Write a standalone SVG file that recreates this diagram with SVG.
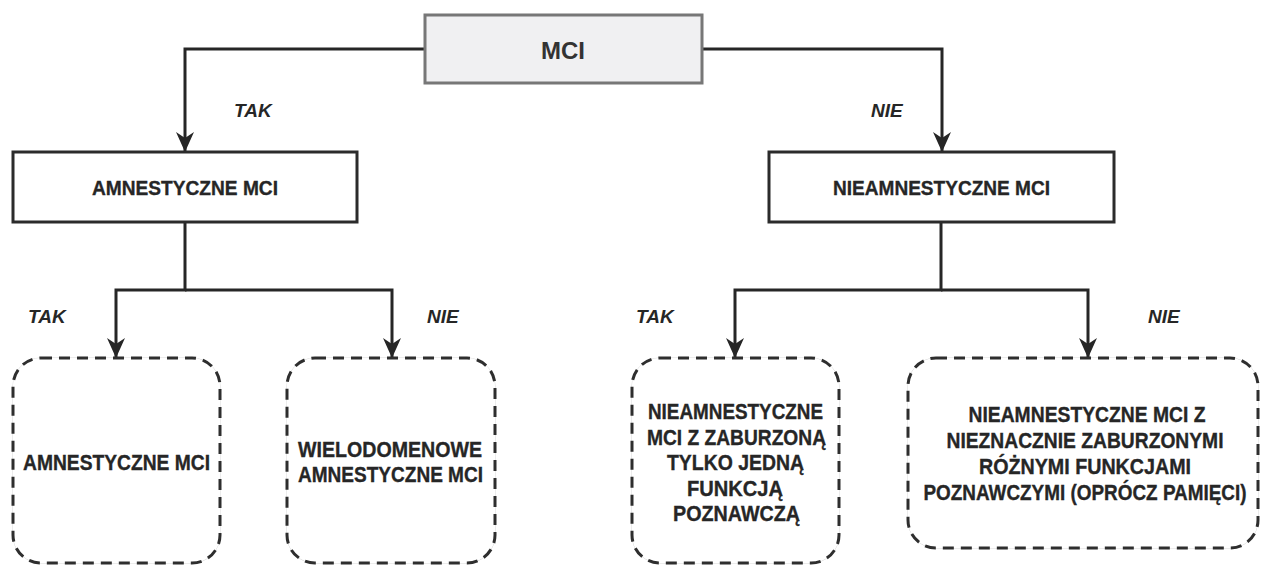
<svg xmlns="http://www.w3.org/2000/svg" width="1261" height="565" viewBox="0 0 1261 565">
<style>
  .bg { fill: #ffffff; }
  .box { fill: #ffffff; stroke: #2b2b2b; stroke-width: 3; }
  .root { fill: #f0f0f2; stroke: #777777; stroke-width: 3; }
  .dash { fill: #ffffff; stroke: #2e2e2e; stroke-width: 3; stroke-dasharray: 11 7; }
  .faint { fill: none; stroke: #cfcfcf; stroke-width: 0.8; }
  .conn { fill: none; stroke: #262626; stroke-width: 3; }
  .t { font-family: "Liberation Sans", Arial, sans-serif; font-weight: bold; fill: #262626; stroke: #262626; stroke-width: 0.35; text-anchor: middle; }
  .lbl { font-family: "Liberation Sans", Arial, sans-serif; font-weight: bold; font-style: italic; font-size: 19px; fill: #262626; }
  .big { font-family: "Liberation Sans", Arial, sans-serif; font-weight: bold; font-size: 24px; fill: #333333; text-anchor: middle; }
</style>
<defs>
  <marker id="arr" viewBox="0 0 20 20" refX="19" refY="10" markerWidth="20" markerHeight="20" markerUnits="userSpaceOnUse" orient="auto">
    <path d="M0,1 L20,10 L0,19 L6,10 Z" fill="#262626"/>
  </marker>
</defs>
<rect class="bg" x="0" y="0" width="1261" height="565"/>

<g id="connectors">
  <path class="conn" d="M425 49 H185 V151" marker-end="url(#arr)"/>
  <path class="conn" d="M702 49 H942 V151" marker-end="url(#arr)"/>
  <path class="conn" d="M185 222 V290 H116 V357" marker-end="url(#arr)"/>
  <path class="conn" d="M185 290 H392 V357" marker-end="url(#arr)"/>
  <path class="conn" d="M941 222 V290 H735 V357" marker-end="url(#arr)"/>
  <path class="conn" d="M941 290 H1088 V357" marker-end="url(#arr)"/>
</g>

<g id="labels">
  <text class="lbl" x="234" y="117">TAK</text>
  <text class="lbl" x="871" y="117">NIE</text>
  <text class="lbl" x="28" y="323">TAK</text>
  <text class="lbl" x="427" y="323">NIE</text>
  <text class="lbl" x="636" y="323">TAK</text>
  <text class="lbl" x="1148" y="323">NIE</text>
</g>

<g id="node-mci">
  <rect class="root" x="425" y="15" width="277" height="68"/>
  <text class="big" x="563" y="59">MCI</text>
</g>

<g id="node-amnestyczne">
  <rect class="box" x="13" y="152" width="344" height="70"/>
  <text class="t" x="185" y="195" font-size="21" textLength="186" lengthAdjust="spacingAndGlyphs">AMNESTYCZNE MCI</text>
</g>

<g id="node-nieamnestyczne">
  <rect class="box" x="769" y="152" width="345" height="70"/>
  <text class="t" x="941.5" y="195" font-size="21" textLength="217" lengthAdjust="spacingAndGlyphs">NIEAMNESTYCZNE MCI</text>
</g>

<g id="node-amn-single">
  <rect class="faint" x="13" y="358" width="207" height="205" rx="28"/>
  <rect class="dash" x="13" y="358" width="207" height="205" rx="28"/>
  <text class="t" x="116.5" y="470" font-size="22" textLength="187" lengthAdjust="spacingAndGlyphs">AMNESTYCZNE MCI</text>
</g>

<g id="node-amn-multi">
  <rect class="faint" x="287" y="358" width="208" height="205" rx="28"/>
  <rect class="dash" x="287" y="358" width="208" height="205" rx="28"/>
  <text class="t" x="390" y="457" font-size="22" textLength="184" lengthAdjust="spacingAndGlyphs">WIELODOMENOWE</text>
  <text class="t" x="390.5" y="482" font-size="22" textLength="185" lengthAdjust="spacingAndGlyphs">AMNESTYCZNE MCI</text>
</g>

<g id="node-nieamn-single">
  <rect class="faint" x="632" y="358" width="207" height="205" rx="28"/>
  <rect class="dash" x="632" y="358" width="207" height="205" rx="28"/>
  <text class="t" x="735.5" y="419" font-size="22" textLength="175" lengthAdjust="spacingAndGlyphs">NIEAMNESTYCZNE</text>
  <text class="t" x="736.5" y="445" font-size="22" textLength="179" lengthAdjust="spacingAndGlyphs">MCI Z ZABURZONĄ</text>
  <text class="t" x="735.5" y="470" font-size="22" textLength="137" lengthAdjust="spacingAndGlyphs">TYLKO JEDNĄ</text>
  <text class="t" x="735" y="496" font-size="22" textLength="96" lengthAdjust="spacingAndGlyphs">FUNKCJĄ</text>
  <text class="t" x="736.5" y="521" font-size="22" textLength="127" lengthAdjust="spacingAndGlyphs">POZNAWCZĄ</text>
</g>

<g id="node-nieamn-multi">
  <rect class="faint" x="908" y="358" width="350" height="190" rx="28"/>
  <rect class="dash" x="908" y="358" width="350" height="190" rx="28"/>
  <text class="t" x="1087" y="422" font-size="22" textLength="237" lengthAdjust="spacingAndGlyphs">NIEAMNESTYCZNE MCI Z</text>
  <text class="t" x="1085" y="448" font-size="22" textLength="277" lengthAdjust="spacingAndGlyphs">NIEZNACZNIE ZABURZONYMI</text>
  <text class="t" x="1085" y="474" font-size="22" textLength="212" lengthAdjust="spacingAndGlyphs">RÓŻNYMI FUNKCJAMI</text>
  <text class="t" transform="translate(1085,500) scale(0.86,1)" x="0" y="0" font-size="22">POZNAWCZYMI (OPRÓCZ PAMIĘCI)</text>
</g>
</svg>
